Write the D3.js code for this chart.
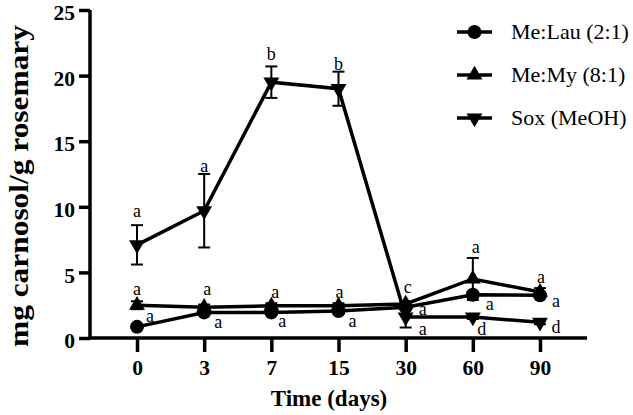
<!DOCTYPE html>
<html>
<head>
<meta charset="utf-8">
<script src="https://cdn.jsdelivr.net/npm/d3@7"></script>
<style>
body { margin: 0; background: #fff; }
text { font-family: "Liberation Serif", "Times New Roman", serif; fill: #000; }
</style>
</head>
<body>
<div id="chart"></div>
<script>
// data
var days = ["0", "3", "7", "15", "30", "60", "90"];
var seriesNames = ["Me:Lau (2:1)", "Me:My (8:1)", "Sox (MeOH)"];
var lauValues = [0.85, 1.95, 1.95, 2.05, 2.35, 3.3, 3.25];
var lauErr = [0.1, 0.1, 0.1, 0.1, 0.1, 0.2, 0.2];
var myValues = [2.5, 2.35, 2.45, 2.45, 2.6, 4.5, 3.5];
var myErr = [0.3, 0.2, 0.2, 0.2, 0.2, 1.6, 0.3];
var soxValues = [7.1, 9.7, 19.5, 19.0, 1.6, 1.6, 1.2];
var soxErr = [1.5, 2.8, 1.2, 1.3, 0.8, 0.15, 0.15];
var lauLetters = ["a", "a", "a", "a", "a", "a", "a"];
var myLetters = ["a", "a", "a", "a", "a", "a", "a"];
var soxLetters = ["a", "a", "b", "b", "c", "d", "d"];
var yTicks = [0, 5, 10, 15, 20, 25];

// letter placement relative to each point (pixels), kept apart from the data
var lauLetterPos = [[13, -5], [14, 16], [11, 15], [14, 16], [17, 28], [17, 15], [16, 12]];
var myLetterPos = [[0, -10], [3, -12], [4, -8], [1, -8], [17, 11], [3, -26], [1, -9]];
var soxLetterPos = [[0, -28], [0, -39], [0, -22], [0, -19], [2, -24], [9, 18], [16, 11]];

var W = 633, H = 415;
var svg = d3.select("#chart").append("svg")
	.attr("width", W)
	.attr("height", H);

var x = d3.scalePoint().domain(days).range([90, 587]).padding(0.7);
var y = d3.scaleLinear().domain([0, 25]).range([338, 10]);

// axes
var yAxis = svg.append("g")
	.attr("transform", "translate(90,0)")
	.call(d3.axisLeft(y).tickValues(yTicks).tickSize(11).tickPadding(4));
var xAxis = svg.append("g")
	.attr("transform", "translate(0,338)")
	.call(d3.axisBottom(x).tickSize(14).tickPadding(8));
[yAxis, xAxis].forEach(function(g) {
	g.select(".domain").attr("stroke-width", 3.5);
	g.selectAll(".tick line").attr("stroke-width", 3.5);
	g.selectAll(".tick text")
		.style("font-family", "'Liberation Serif', serif")
		.style("font-weight", "bold")
		.style("font-size", "21.5px")
		.attr("fill", "#000");
});
// axis lines without the outer tick stubs
xAxis.select(".domain").attr("d", "M90,0H587");
yAxis.select(".domain").attr("d", "M0,10V338");
yAxis.selectAll(".tick text").attr("dy", "0.45em");

svg.append("text")
	.attr("x", 329)
	.attr("y", 406)
	.attr("text-anchor", "middle")
	.style("font-weight", "bold")
	.style("font-size", "23px")
	.text("Time (days)");
svg.append("text")
	.attr("transform", "translate(28,186) rotate(-90)")
	.attr("text-anchor", "middle")
	.attr("textLength", 322)
	.attr("lengthAdjust", "spacingAndGlyphs")
	.style("font-weight", "bold")
	.style("font-size", "28px")
	.text("mg carnosol/g rosemary");

var series = [
	{ name: seriesNames[0], values: lauValues, err: lauErr, letters: lauLetters, pos: lauLetterPos, shape: "circle" },
	{ name: seriesNames[1], values: myValues, err: myErr, letters: myLetters, pos: myLetterPos, shape: "up" },
	{ name: seriesNames[2], values: soxValues, err: soxErr, letters: soxLetters, pos: soxLetterPos, shape: "down" }
];

function marker(g, shape) {
	if (shape == "circle") {
		g.append("circle").attr("r", 7).attr("fill", "#000");
	} else {
		var sym = d3.symbol().type(d3.symbolTriangle).size(110);
		g.append("path")
			.attr("d", sym())
			.attr("transform", shape == "down" ? "rotate(180)" : null)
			.attr("fill", "#000");
	}
}

var line = d3.line()
	.x(function(d, i) { return x(days[i]); })
	.y(function(d) { return y(d); });

series.forEach(function(s) {
	svg.append("path")
		.attr("d", line(s.values))
		.attr("fill", "none")
		.attr("stroke", "#000")
		.attr("stroke-width", 3.5);
});

series.forEach(function(s) {
	var eg = svg.append("g");
	s.values.forEach(function(v, i) {
		var cx = x(days[i]);
		var t = y(v + s.err[i]), b = y(v - s.err[i]);
		eg.append("line").attr("x1", cx).attr("x2", cx).attr("y1", t).attr("y2", b)
			.attr("stroke", "#000").attr("stroke-width", 2);
		[t, b].forEach(function(yy) {
			eg.append("line").attr("x1", cx - 6).attr("x2", cx + 6).attr("y1", yy).attr("y2", yy)
				.attr("stroke", "#000").attr("stroke-width", 2);
		});
		var m = eg.append("g").attr("transform", "translate(" + cx + "," + y(v) + ")");
		marker(m, s.shape);
	});
});

// significance letters
series.forEach(function(s) {
	s.letters.forEach(function(l, i) {
		svg.append("text")
			.attr("x", x(days[i]) + s.pos[i][0])
			.attr("y", y(s.values[i]) + s.pos[i][1])
			.attr("text-anchor", "middle")
			.style("font-size", "18px")
			.text(l);
	});
});

// legend
var legend = svg.append("g");
series.forEach(function(s, i) {
	var ly = 32 + i * 43;
	legend.append("line").attr("x1", 457).attr("x2", 492).attr("y1", ly).attr("y2", ly)
		.attr("stroke", "#000").attr("stroke-width", 3.5);
	var m = legend.append("g").attr("transform", "translate(474.5," + ly + ")");
	marker(m, s.shape);
	legend.append("text")
		.attr("x", 511)
		.attr("y", ly + 7)
		.style("font-size", "22px")
		.text(s.name);
});
</script>
</body>
</html>
